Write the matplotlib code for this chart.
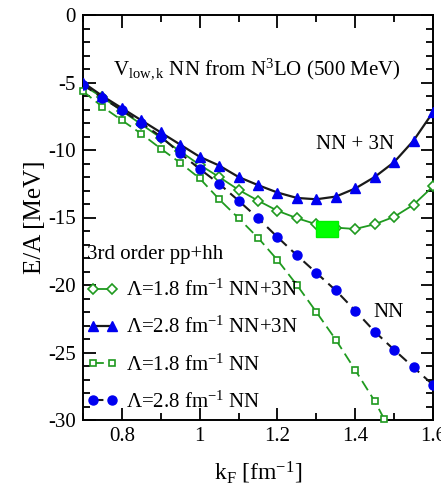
import matplotlib
matplotlib.use("Agg")
import matplotlib.pyplot as plt
from matplotlib.patches import Rectangle
from matplotlib.ticker import MultipleLocator

plt.rcParams['font.family'] = ['Liberation Serif', 'DejaVu Serif']
plt.rcParams['mathtext.fontset'] = 'custom'
plt.rcParams['mathtext.rm'] = 'Liberation Serif'
plt.rcParams['mathtext.it'] = 'Liberation Serif:italic'
plt.rcParams['mathtext.bf'] = 'Liberation Serif:bold'
plt.rcParams['axes.unicode_minus'] = False

kf = [0.70, 0.75, 0.80, 0.85, 0.90, 0.95, 1.00, 1.05, 1.10, 1.15, 1.20,
      1.25, 1.30, 1.35, 1.40, 1.45, 1.50, 1.55, 1.60]

# Lambda = 1.8 fm^-1, NN+3N (open diamonds)
e18_3n = [-5.2, -6.1, -7.1, -8.1, -9.1, -10.1, -11.1, -12.0, -12.95, -13.75, -14.5,
          -15.05, -15.5, -15.75, -15.85, -15.5, -14.95, -14.05, -12.7]
# Lambda = 2.8 fm^-1, NN+3N (filled triangles)
e28_3n = [-5.0, -6.0, -6.9, -7.8, -8.7, -9.6, -10.5, -11.15, -12.0, -12.6, -13.15,
          -13.55, -13.65, -13.45, -12.85, -12.0, -10.9, -9.3, -7.2]
# Lambda = 1.8 fm^-1, NN (open squares)
kf18_nn = [0.70, 0.75, 0.80, 0.85, 0.90, 0.95, 1.00, 1.05, 1.10, 1.15, 1.20,
           1.25, 1.30, 1.35, 1.40, 1.45, 1.475]
e18_nn = [-5.65, -6.8, -7.8, -8.8, -9.9, -10.95, -12.1, -13.65, -15.05, -16.5, -18.15,
          -20.0, -22.0, -24.05, -26.3, -28.6, -29.95]
# Lambda = 2.8 fm^-1, NN (filled circles)
e28_nn = [-5.15, -6.15, -7.05, -8.0, -9.0, -10.25, -11.4, -12.5, -13.75, -15.05, -16.45,
          -17.8, -19.1, -20.4, -21.9, -23.45, -24.8, -26.1, -27.4]

# empirical saturation region
sat_k = (1.300, 1.356)
sat_e = (-16.42, -15.24)

labels = [r"$\Lambda$=1.8 fm$^{-1}$ NN+3N",
          r"$\Lambda$=2.8 fm$^{-1}$ NN+3N",
          r"$\Lambda$=1.8 fm$^{-1}$ NN",
          r"$\Lambda$=2.8 fm$^{-1}$ NN"]

green = '#1f9a1f'
blue = '#0000f0'
black = '#1a1a1a'

fig = plt.figure(figsize=(4.41, 4.95), dpi=100)
ax = fig.add_axes([83/441, 75/495, 350/441, 405/495])

ax.add_patch(Rectangle((sat_k[0], sat_e[0]), sat_k[1]-sat_k[0], sat_e[1]-sat_e[0],
                       facecolor='#00ff00', edgecolor='#00ee00', zorder=5))

l1, = ax.plot(kf, e18_3n, '-', color=green, lw=1.3, marker='D', ms=5,
              mfc='white', mec=green, mew=1.2, label=labels[0], zorder=3)
l2, = ax.plot(kf, e28_3n, '-', color=black, lw=1.6, marker='^', ms=7.5,
              mfc=blue, mec=blue, label=labels[1], zorder=4)
l3, = ax.plot(kf18_nn, e18_nn, '--', color=green, lw=1.3, dashes=(6, 3), marker='s', ms=5,
              mfc='white', mec=green, mew=1.2, label=labels[2], zorder=3)
l4, = ax.plot(kf, e28_nn, '--', color=black, lw=1.5, dashes=(5, 3), marker='o', ms=6.5,
              mfc=blue, mec=blue, label=labels[3], zorder=4)
l3.set_clip_on(False)

ax.set_xlim(0.7, 1.6)
ax.set_ylim(-30, 0)
ax.xaxis.set_major_locator(MultipleLocator(0.2))
ax.xaxis.set_minor_locator(MultipleLocator(0.1))
ax.yaxis.set_major_locator(MultipleLocator(5))
ax.yaxis.set_minor_locator(MultipleLocator(1))
ax.tick_params(which='both', direction='in', top=True, right=True, width=1.3)
ax.tick_params(which='major', length=9, labelsize=15, pad=5)
ax.tick_params(which='minor', length=5)
ax.set_xticks([0.8, 1.0, 1.2, 1.4, 1.6])
ax.set_xticklabels(['0.8', '1', '1.2', '1.4', '1.6'])
for s in ax.spines.values():
    s.set_linewidth(1.4)

ax.set_xlabel(r"k$_\mathrm{F}$ [fm$^{-1}$]", fontsize=17, labelpad=10)
ax.set_ylabel("E/A [MeV]", fontsize=18, labelpad=2)

ax.text(0.085, 0.865, r"V$_{\mathrm{low,k}}$ NN from N$^3$LO (500 MeV)",
        transform=ax.transAxes, fontsize=15, ha='left', va='center')
ax.text(0.665, 0.68, "NN + 3N", transform=ax.transAxes, fontsize=15,
        ha='left', va='center')
ax.text(0.83, 0.265, "NN", transform=ax.transAxes, fontsize=15,
        ha='left', va='center')

leg = ax.legend(handles=[l1, l2, l3, l4], loc='upper left',
                bbox_to_anchor=(0.005, 0.438), frameon=False, fontsize=15,
                title="3rd order pp+hh", title_fontsize=15, numpoints=2,
                handlelength=1.5, handletextpad=0.4, labelspacing=0.77,
                borderaxespad=0, borderpad=0.1)
leg._legend_box.align = 'left'

fig.savefig('out.png', dpi=100)
